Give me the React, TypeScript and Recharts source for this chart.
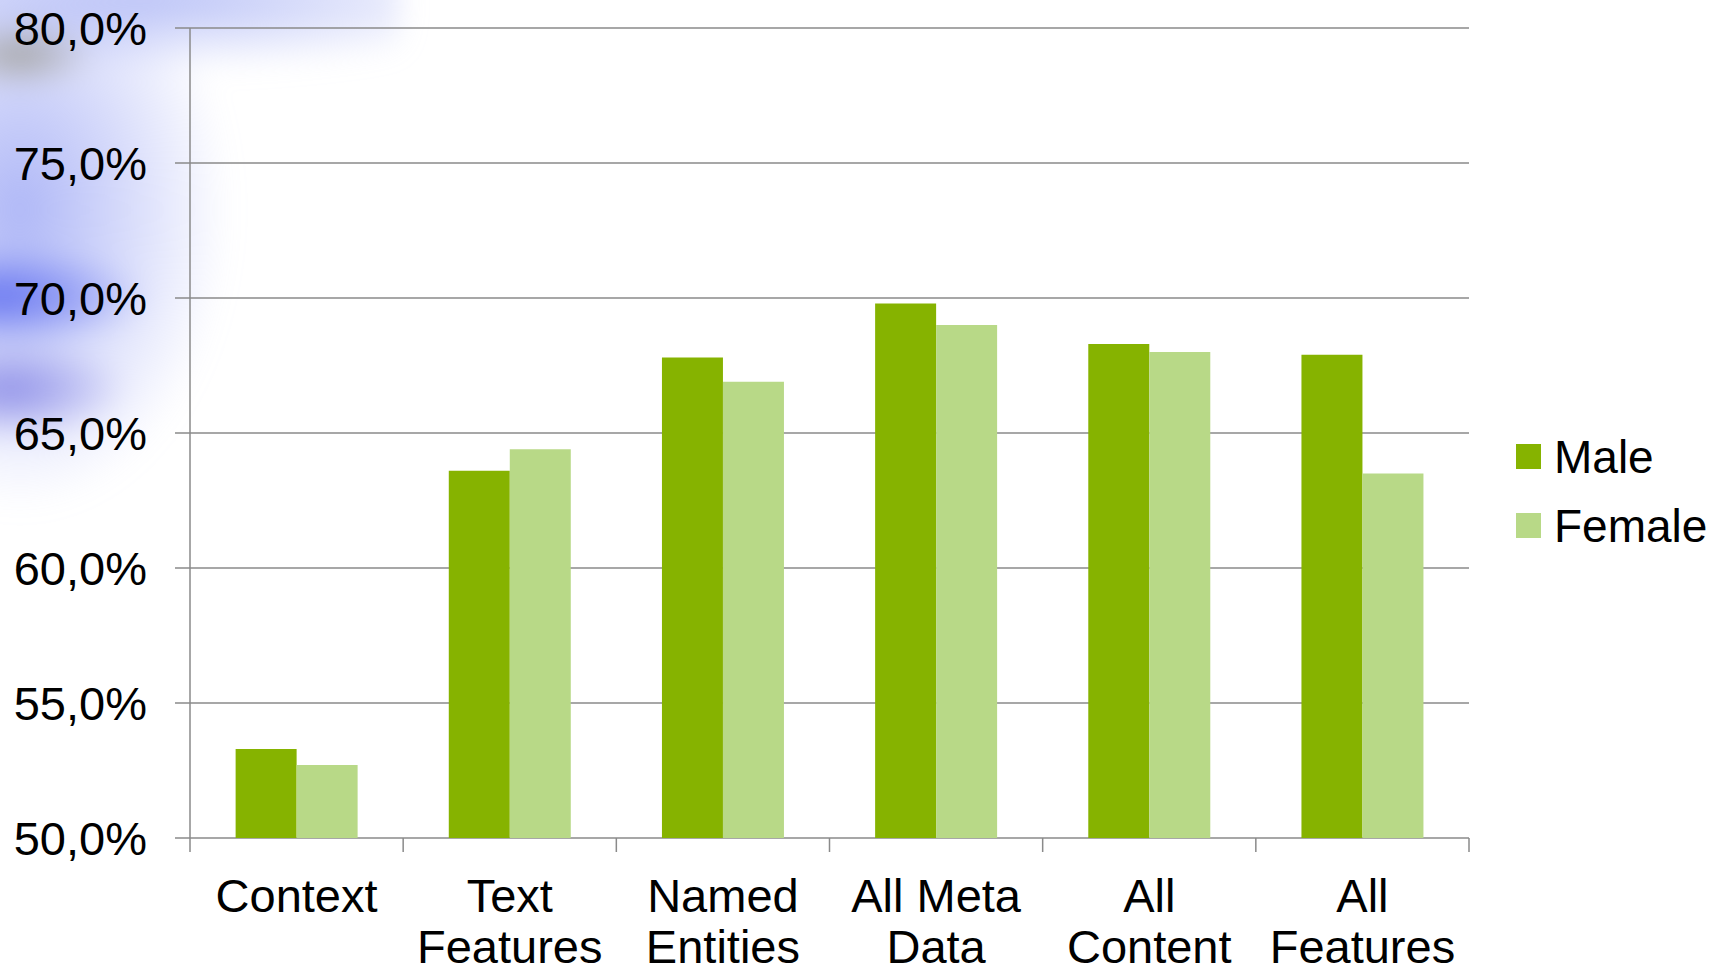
import React from 'react';
import { BarChart, Bar, XAxis, YAxis, CartesianGrid, Legend } from 'recharts';

// Accuracy (%) per feature set, split by gender
const categories = ['Context', 'Text Features', 'Named Entities', 'All Meta Data', 'All Content', 'All Features'];
const categoryLines = [['Context'], ['Text', 'Features'], ['Named', 'Entities'], ['All Meta', 'Data'], ['All', 'Content'], ['All', 'Features']];
const maleValues = [53.3, 63.6, 67.8, 69.8, 68.3, 67.9];
const femaleValues = [52.7, 64.4, 66.9, 69.0, 68.0, 63.5];
const yTicks = [50, 55, 60, 65, 70, 75, 80];

const seriesNames = ['Male', 'Female'];
const seriesColors = ['#86b300', '#b8d987'];

const W = 1729;
const H = 973;
const MARGIN = { top: 28, right: 260, bottom: 0, left: 0 };
const Y_AXIS_W = 190;
const X_AXIS_H = 135;
const PLOT_W = W - MARGIN.left - MARGIN.right - Y_AXIS_W;
const BAND = PLOT_W / categories.length;

const FONT = '"Liberation Sans", Arial, Helvetica, sans-serif';
const LINE = '#8a8a8a';

const data = categories.map((name, i) => ({
  name,
  male: maleValues[i],
  female: femaleValues[i],
}));

const fmt = (v: number) => v.toFixed(1).replace('.', ',') + '%';

function CategoryTick(props: any) {
  const { x, y, index, payload } = props;
  const lines: string[] = categoryLines[index] ?? [String(payload.value)];
  const last = index === categories.length - 1;
  return (
    <g>
      <line x1={x - BAND / 2} x2={x - BAND / 2} y1={y} y2={y + 14} stroke={LINE} strokeWidth={1.5} />
      {last && <line x1={x + BAND / 2} x2={x + BAND / 2} y1={y} y2={y + 14} stroke={LINE} strokeWidth={1.5} />}
      <text x={x} y={y + 74} textAnchor="middle" fontFamily={FONT} fontSize={47} fill="#000">
        {lines.map((l, i) => (
          <tspan key={i} x={x} dy={i === 0 ? 0 : 51}>
            {l}
          </tspan>
        ))}
      </text>
    </g>
  );
}

function LegendContent() {
  return (
    <div style={{ fontFamily: FONT }}>
      {seriesNames.map((n, i) => (
        <div key={n} style={{ display: 'flex', alignItems: 'center', height: 69 }}>
          <div style={{ width: 25, height: 25, background: seriesColors[i], marginRight: 13 }} />
          <span style={{ fontSize: 46, lineHeight: 1, color: '#000' }}>{n}</span>
        </div>
      ))}
    </div>
  );
}

export default function App() {
  return (
    <div style={{ position: 'absolute', left: 0, top: 0, width: W, height: H, overflow: 'hidden', background: '#fff' }}>
      {/* soft slide backdrop glow in the upper left corner */}
      <div
        style={{
          position: 'absolute',
          left: -40,
          top: -40,
          width: 440,
          height: 580,
          filter: 'blur(14px)',
          background: [
            'radial-gradient(ellipse 75px 32px at 60px 95px, rgba(150,148,135,0.8), rgba(150,148,135,0) 100%)',
            'radial-gradient(ellipse 150px 50px at 40px 337px, rgba(95,110,240,0.95), rgba(95,110,240,0) 100%)',
            'radial-gradient(ellipse 120px 50px at 50px 430px, rgba(115,115,225,0.75), rgba(115,115,225,0) 100%)',
            'radial-gradient(ellipse 210px 300px at 60px 250px, rgba(160,170,245,0.85), rgba(160,170,245,0) 100%)',
            'radial-gradient(ellipse 360px 70px at 200px 40px, rgba(170,180,245,0.8), rgba(170,180,245,0) 100%)',
          ].join(','),
        }}
      />
      <BarChart
        width={W}
        height={H}
        data={data}
        margin={MARGIN}
        barCategoryGap="21.4%"
        barGap={0}
        style={{ position: 'relative' }}
      >
        <CartesianGrid horizontal vertical={false} stroke={LINE} strokeWidth={1.5} />
        <YAxis
          type="number"
          domain={[50, 80]}
          ticks={yTicks}
          width={Y_AXIS_W}
          tickFormatter={fmt}
          tickSize={15}
          tickMargin={28}
          axisLine={{ stroke: LINE, strokeWidth: 1.5 }}
          tickLine={{ stroke: LINE, strokeWidth: 1.5 }}
          tick={{ fontFamily: FONT, fontSize: 47, fill: '#000' }}
          allowDataOverflow
        />
        <XAxis
          dataKey="name"
          height={X_AXIS_H}
          interval={0}
          tickSize={0}
          tickMargin={0}
          axisLine={false}
          tickLine={false}
          tick={<CategoryTick />}
        />
        <Legend
          layout="vertical"
          align="center"
          verticalAlign="middle"
          wrapperStyle={{ left: 1516, top: 422, width: 213 }}
          content={() => <LegendContent />}
        />
        <Bar dataKey="male" name={seriesNames[0]} fill={seriesColors[0]} isAnimationActive={false} />
        <Bar dataKey="female" name={seriesNames[1]} fill={seriesColors[1]} isAnimationActive={false} />
      </BarChart>
    </div>
  );
}
